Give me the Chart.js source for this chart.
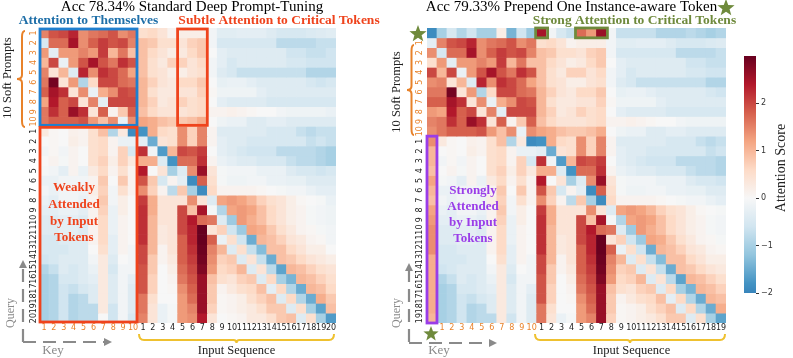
<!DOCTYPE html>
<html><head><meta charset="utf-8">
<style>html,body{margin:0;padding:0;background:#fff}#w{position:relative;width:793px;height:358px;overflow:hidden}
canvas{position:absolute;top:0;display:block}</style>
<script src="https://cdn.jsdelivr.net/npm/chart.js@4"></script></head>
<body><div id="w">
<canvas id="a" width="384" height="358" style="left:0"></canvas>
<canvas id="b" width="375" height="358" style="left:384px"></canvas>
<canvas id="c" width="58" height="358" style="left:735px"></canvas>
</div>
<script>
const promptLabels=['1','2','3','4','5','6','7','8','9','10'];
const inputLabels=['1','2','3','4','5','6','7','8','9','10','11','12','13','14','15','16','17','18','19','20'];
const standardScores=[
[1.5,1.9,2.0,2.3,1.4,1.6,1.7,1.9,1.4,1.6,.5,.6,.4,.1,.2,.2,.2,-.1,-.35,-.35,-.3,-.3,-.3,-.4,-.5,-.5,-.5,-.45,-.4,-.35],
[-.5,1.7,1.7,2.5,1.4,1.8,2.1,1.9,2.0,1.5,.9,.8,.5,.5,.4,.7,.8,-.1,-.5,-.5,-.5,-.5,-.5,-.5,-.8,-.8,-.8,-.8,-.7,-.7],
[1.3,-.3,1.3,1.3,1.5,1.3,2.1,1.0,1.6,.9,.9,.6,.4,.2,.3,.6,.8,0,-.3,-.4,-.4,-.4,-.4,-.4,-.4,-.6,-.6,-.7,-.7,-.6],
[1.0,2.0,-.2,1.3,1.9,2.5,1.9,1.6,2.2,1.9,.9,.5,.3,.7,.7,.4,.6,-.1,-.3,-.5,-.4,-.4,-.4,-.4,-.4,-.5,-.5,-.6,-.6,-.6],
[1.5,.4,1.0,-.4,2.3,1.4,2.2,2.0,1.7,1.2,.9,.5,.4,.2,.2,.4,.5,-.1,-.4,-.5,-.7,-.7,-.7,-.7,-.7,-.7,-.7,-.9,-.9,-.9],
[1.6,2.9,.4,1.3,-.9,.6,2.0,2.0,1.7,1.6,1.0,.7,.4,.3,.6,.6,.8,0,-.25,-.2,-.2,-.3,-.4,-.4,-.4,-.4,-.4,-.5,-.6,-.5],
[1.8,2.5,2.2,.4,1.4,-.2,1.1,1.4,2.0,1.9,1.0,.5,.3,.3,.4,.4,.7,.05,-.15,-.15,-.15,-.15,-.3,-.4,-.4,-.4,-.4,-.4,-.4,-.4],
[1.2,2.4,1.8,2.0,.4,1.5,-.3,2.0,2.0,2.0,1.0,.7,.3,.4,.7,.5,.6,0,-.3,-.4,-.4,-.4,-.4,-.5,-.5,-.5,-.5,-.5,-.5,-.5],
[1.6,2.2,1.8,2.6,2.2,.4,1.8,.1,.8,1.8,.9,.6,.4,.4,.4,.5,.6,.1,.1,.15,.1,.05,0,0,-.1,-.15,-.15,-.15,-.15,-.2],
[1.6,1.8,1.8,1.8,1.9,1.3,.9,1.4,-.2,1.4,1.2,1.1,.9,.8,.8,.9,1.1,0,-.15,-.2,-.2,-.4,-.4,-.3,-.3,-.4,-.4,-.4,-.4,-.4],
[.3,.05,0,.15,.1,.5,.9,-.9,.3,-1.9,-1.8,1.1,.6,.5,1.4,.7,1.5,.1,-.4,-.4,-.4,-.4,-.4,-.5,-.5,-.5,-.7,-.8,-.7,-.7],
[0,.05,0,.2,.1,.5,.6,.1,-.2,-.2,-.3,-1.5,.4,.5,1.4,.7,1.5,.1,-.3,-.4,-.4,-.5,-.5,-.5,-.5,-.5,-.5,-.7,-.6,-.7],
[-.1,.05,-.1,.1,0,.5,.6,.1,.7,-.5,2.2,-.1,-1.7,1.0,2.0,1.9,2.1,0,-.3,-.4,-.5,-.6,-.6,-.6,-.8,-.8,-.8,-.8,-.9,-1],
[0,.1,-.05,.1,0,.5,.7,.2,.7,.3,1.1,1.1,-.4,-1.8,1.7,1.7,2.2,.1,-.2,-.3,-.4,-.4,-.5,-.5,-.5,-.7,-.8,-.8,-.9,-1],
[-.05,-.1,-.3,.1,-.2,.3,.6,.1,.5,.1,2.4,0,.4,-1.0,-.4,1.4,2.6,.4,-.05,-.1,-.1,-.1,-.2,-.2,-.2,-.4,-.5,-.5,-.6,-.5],
[-.2,-.2,-.1,-.1,-.1,.1,.8,0,.8,.1,1.9,.8,-.5,.1,-.3,-1.9,1.8,.5,-.05,-.15,-.15,-.1,-.1,-.2,-.2,-.25,-.25,-.4,-.4,-.4],
[-.1,-.2,-.1,-.1,-.15,.2,.7,-.1,.5,.1,1.4,.7,.1,-.8,.8,-1,-1.9,.6,.1,.1,.1,.1,.05,0,-.05,-.1,-.1,-.2,-.3,-.3],
[-.2,-.3,-.1,-.1,-.2,.1,.8,-.1,.2,0,2.1,1.1,.4,.4,.4,1.4,.4,-.4,1.2,1.3,1.2,1.0,.7,.5,.4,.2,.05,0,-.05,-.2],
[-.3,-.3,-.2,-.2,-.3,.1,.7,-.2,.2,0,2.2,1.1,.4,.4,2.0,.9,2.5,-.05,-.9,1.2,1.3,1.2,.9,.6,.4,.2,.1,-.05,-.1,-.15],
[-.4,-.4,-.3,-.3,-.4,.1,.6,-.2,.1,0,2.2,1.0,.4,.4,2.0,2.4,1.7,1.6,-.4,-1.1,1.3,1.1,.9,.6,.4,.2,.1,-.05,-.1,-.15],
[-.4,-.4,-.3,-.3,-.4,.1,.6,-.2,.1,0,2.2,1.0,.3,.4,2.0,2.3,3,.4,.7,-.6,-1.1,1.2,1.1,.8,.5,.3,.1,.05,-.05,-.1],
[-.5,-.5,-.4,-.4,-.4,.1,.6,-.3,.1,0,2.2,1.0,.3,.4,1.8,2.3,3,1.8,-.2,.5,-.6,-1.5,1.0,.9,.7,.4,.3,.1,.05,-.1],
[-.5,-.5,-.5,-.4,-.4,0,.5,-.3,.1,-.1,2.0,1.0,.1,.4,1.8,2.2,2.95,1.5,1.0,-.4,.5,-.7,-1.3,.9,.9,.6,.4,.2,.2,0],
[-.6,-.5,-.4,-.4,-.4,-.1,.3,-.4,0,-.1,2.0,.8,.1,.3,1.8,2.1,2.9,1.4,.7,.8,-.4,.4,-.7,-1.5,.9,.8,.6,.4,.3,.2],
[-.9,-.7,-.4,-.5,-.4,-.2,.3,-.5,-.1,-.1,1.9,.8,0,.2,1.7,2.0,2.8,1.3,.6,.7,1.0,-.4,.4,-.8,-1.6,1.0,.9,.7,.5,.4],
[-1,-.9,-.5,-.5,-.4,-.3,.3,-.4,-.1,-.3,1.9,.7,0,.1,1.6,1.9,2.6,.9,.5,.4,.7,.8,-.4,.6,-1,-1.4,1.0,.9,.7,.5],
[-1,-.9,-.6,-.7,-.5,-.4,.3,-.4,-.1,-.4,1.9,.7,0,.05,1.4,1.8,2.6,.8,.1,.3,.5,.6,.9,-.3,.6,-.9,-1.5,1.0,.9,.6],
[-1,-.9,-.6,-.9,-.8,-.4,.3,-.4,-.1,-.4,1.6,.5,0,0,1.3,1.7,2.6,.8,.05,.1,.2,.5,.7,.9,-.4,.6,-.9,-1.5,1.1,.8],
[-1,-.9,-.6,-.9,-.8,-.8,.3,-.6,-.1,-.4,1.6,.4,-.2,-.05,1.3,1.5,2.6,.7,.05,.1,.2,.3,.5,.8,.8,-.4,.5,-1,-1.6,.9],
[-1,-.9,-.6,-.9,-.8,-.8,0,-.6,-.1,-.5,1.5,.4,-.2,-.05,1.3,1.4,2.4,.4,0,.05,.1,.3,.3,.5,.8,.9,-.4,.5,-1,-1.7]];
const tokenRow=[-1.9,-1,-.5,-.9,-.6,-1,-1,.2,-1.4,-.6,-1.1,2.5,-.1,-.5,-.7,1.7,1.3,2.6,-.1,-.7,-.7,-.7,-.7,-.9,-.9,-.9,-.8,-.9,-1,-.9];
const tokenCol=[-.3,1.4,.5,2.0,1.4,1.6,1.8,1.3,1.5,1.4,1.4,1.0,1.0,.9,1.2,1.0,.9,1.2,1.3,1.4,1.4,1.4,1.1,1.1,1.1,1.1,1.1,1.1,1.0];
const tokenScores=[tokenRow,...standardScores.slice(0,29).map((r,i)=>[tokenCol[i],...r.slice(0,29)])];
const colorStops=[[-3,[5,48,97]],[-2.4,[33,102,172]],[-1.8,[67,147,195]],[-1.2,[146,197,222]],[-.6,[209,229,240]],[0,[247,247,247]],[.6,[253,219,199]],[1.2,[244,165,130]],[1.8,[214,96,77]],[2.4,[178,24,43]],[3,[103,0,31]]];
const colorbarTicks=[-2,-1,0,1,2];

function scoreColor(v){v=Math.max(-3,Math.min(3,v));
 for(let i=1;i<colorStops.length;i++){if(v<=colorStops[i][0]){const [a,ca]=colorStops[i-1],[b,cb]=colorStops[i],t=(v-a)/(b-a);
  return 'rgb('+ca.map((c,k)=>Math.round(c+(cb[k]-c)*t)).join(',')+')';}}
 return 'rgb(103,0,31)';}
const SERIF='"Liberation Serif"', ORANGE='#e8822a', YELLOW='#efc12f', GRAY='#8a8a8a', RED='#ef431c', BLUE='#1f7fcf', PURPLE='#9a3de8', OLIVE='#6f8a3c';

function star(c,x,y,r){c.beginPath();for(let i=0;i<10;i++){const a=-Math.PI/2+i*Math.PI/5,q=i%2?r*.42:r;c.lineTo(x+q*Math.cos(a),y+q*Math.sin(a));}c.closePath();c.fillStyle=OLIVE;c.fill();}
function text(c,s,x,y,font,color,rot){c.save();c.translate(x,y);if(rot)c.rotate(rot);c.font=font;c.fillStyle=color;c.textAlign='center';c.textBaseline='middle';c.fillText(s,0,0);c.restore();}
function braceV(c,x0,x1,y0,y1,color){const m=(y0+y1)/2,xm=(x0+x1)/2+1;c.beginPath();c.moveTo(x1,y0);c.quadraticCurveTo(xm,y0,xm,y0+6);c.lineTo(xm,m-4);c.quadraticCurveTo(xm,m,x0,m);c.quadraticCurveTo(xm,m,xm,m+4);c.lineTo(xm,y1-6);c.quadraticCurveTo(xm,y1,x1,y1);c.strokeStyle=color;c.lineWidth=2;c.stroke();}
function braceH(c,x0,x1,y0,y1,color){const m=(x0+x1)/2,ym=y0+6;c.beginPath();c.moveTo(x0,y0);c.quadraticCurveTo(x0,ym,x0+5,ym);c.lineTo(m-3,ym);c.quadraticCurveTo(m,ym,m,y1);c.quadraticCurveTo(m,ym,m+3,ym);c.lineTo(x1-5,ym);c.quadraticCurveTo(x1,ym,x1,y0);c.strokeStyle=color;c.lineWidth=2;c.stroke();}
function arrow(c,x0,y0,x1,y1){c.strokeStyle=GRAY;c.fillStyle=GRAY;c.lineWidth=2.2;c.setLineDash([13,7]);c.beginPath();c.moveTo(x0,y0);const L=Math.hypot(x1-x0,y1-y0),ux=(x1-x0)/L,uy=(y1-y0)/L;c.lineTo(x1-ux*6,y1-uy*6);c.stroke();c.setLineDash([]);c.beginPath();c.moveTo(x1,y1);c.lineTo(x1-ux*8-uy*4,y1-uy*8+ux*4);c.lineTo(x1-ux*8+uy*4,y1-uy*8-ux*4);c.closePath();c.fill();}

function heatConfig(scores,labels,nPrompts,offset,layoutRight,leftW,yPad,decorate){
 const n=scores.length;
 return {type:'bar',data:{labels,datasets:scores.map((row,r)=>({data:row.map(()=>[r-.5,r+.5]),backgroundColor:row.map(scoreColor),borderWidth:0}))},
 options:{responsive:false,animation:false,events:[],
  datasets:{bar:{grouped:false,barPercentage:1,categoryPercentage:1}},
  layout:{padding:{left:0,right:layoutRight,top:28,bottom:0}},
  plugins:{legend:{display:false},tooltip:{enabled:false},title:{display:false}},
  scales:{
   x:{type:'category',grid:{display:false,drawTicks:false},border:{display:false},afterFit:s=>{s.height=35},
      ticks:{autoSkip:false,maxRotation:0,minRotation:0,padding:0,font:{family:'"DejaVu Sans"',size:8},color:c=>{const i=c.index-offset;return i<nPrompts?ORANGE:'#222'}}},
   y:{type:'linear',reverse:true,min:-.5,max:n-.5,grid:{display:false,drawTicks:false},border:{display:false},
      afterFit:s=>{s.width=leftW},
      afterBuildTicks:s=>{s.ticks=labels.map((_,i)=>({value:i}))},
      ticks:{autoSkip:false,minRotation:90,maxRotation:90,crossAlign:'center',padding:yPad,font:{family:'"DejaVu Sans"',size:8},
        callback:v=>labels[v],color:c=>{const i=c.index-offset;return i<nPrompts?ORANGE:'#222'}}}
  }},
 plugins:[{id:'notes',afterDraw(ch){const c=ch.ctx,X=ch.scales.x,Y=ch.scales.y,cw=(ch.chartArea.right-ch.chartArea.left)/n;
   c.save();const ox=decorate.ox;c.translate(-ox,0);
   decorate.boxes.forEach(b=>{const l=X.getPixelForValue(b.c0)-cw/2+ox,rr=X.getPixelForValue(b.c1)+cw/2+ox,t=Y.getPixelForValue(b.r0-.5),bt=Y.getPixelForValue(b.r1+.5);c.strokeStyle=b.color;c.lineWidth=2.8;c.strokeRect(l+(b.px||0),t+(b.py||0),rr-l-2*(b.px||0),bt-t-2*(b.py||0));});
   decorate.draw(c);c.restore();}}]};
}

new Chart(document.getElementById('a').getContext('2d'),heatConfig(standardScores,[...promptLabels,...inputLabels],10,0,48,39,0,{
 ox:0,
 boxes:[{c0:0,c1:9,r0:0,r1:9,color:BLUE,px:1,py:1},{c0:14,c1:16,r0:0,r1:9,color:RED,py:1},{c0:0,c1:9,r0:10,r1:29,color:RED,px:1,py:1}],
 draw(c){
  const b='bold 13.5px '+SERIF;
  text(c,'Acc 78.34% Standard Deep Prompt-Tuning',192,7,'15px '+SERIF,'#000');
  text(c,'Attention to Themselves',88.5,21,b,'#1f6fa8');
  text(c,'Subtle Attention to Critical Tokens',279,21,b,RED);
  [['Weakly',188],['Attended',205],['by Input',222],['Tokens',238]].forEach(a=>text(c,a[0],74,a[1],'bold 13px '+SERIF,RED));
  text(c,'10 Soft Prompts',8,78,'12.5px '+SERIF,'#222',-Math.PI/2);
  braceV(c,17,25,31,127,ORANGE);
  braceH(c,139,334,334,343,YELLOW);
  arrow(c,23,342,23,260);arrow(c,23,342,112,342);
  text(c,'Query',11,313,'12px '+SERIF,GRAY,-Math.PI/2);
  text(c,'Key',53,351,'13px '+SERIF,GRAY);
  text(c,'Input Sequence',236.5,351,'12.5px '+SERIF,'#222');
 }}));

new Chart(document.getElementById('b').getContext('2d'),heatConfig(tokenScores,['',...promptLabels,...inputLabels.slice(0,19)],10,1,33,43,2,{
 ox:384,
 boxes:[{c0:11,c1:11,r0:0,r1:0,color:OLIVE,px:-1,py:0},{c0:15,c1:17,r0:0,r1:0,color:OLIVE,px:-1,py:0},{c0:0,c1:0,r0:11,r1:29,color:PURPLE}],
 draw(c){
  const b='bold 13.5px '+SERIF;
  text(c,'Acc 79.33% Prepend One Instance-aware Token',571.5,7,'15px '+SERIF,'#000');
  text(c,'Strong Attention to Critical Tokens',634.5,21,b,OLIVE);
  [['Strongly',191],['Attended',207],['by Input',223],['Tokens',239]].forEach(a=>text(c,a[0],473,a[1],'bold 13px '+SERIF,PURPLE));
  text(c,'10 Soft Prompts',397,92,'12.5px '+SERIF,'#222',-Math.PI/2);
  braceV(c,407,414,45,135,ORANGE);
  braceH(c,535,725,334,343,YELLOW);
  arrow(c,409,342,409,263);arrow(c,409,343,497,343);
  text(c,'Query',397,313,'12px '+SERIF,GRAY,-Math.PI/2);
  text(c,'Key',439,351,'13px '+SERIF,GRAY);
  text(c,'Input Sequence',631.5,351,'12.5px '+SERIF,'#222');
  star(c,418,34,9);star(c,431,334,8);star(c,726,8,9);
 }}));

new Chart(document.getElementById('c').getContext('2d'),{type:'bar',
 data:{labels:['Attention Score'],datasets:[{data:[[-2,3]],barPercentage:1,categoryPercentage:1,borderWidth:0,inflateAmount:0,
  backgroundColor:ctx=>{const y=ctx.chart.scales.y;if(!y)return '#ccc';const p0=y.getPixelForValue(-2),p1=y.getPixelForValue(3);if(!isFinite(p0)||!isFinite(p1))return '#ccc';const g=ctx.chart.ctx.createLinearGradient(0,p0,0,p1);
   g.addColorStop(0,scoreColor(-2));colorStops.filter(s=>s[0]>-2).forEach(s=>g.addColorStop((s[0]+2)/5,scoreColor(s[0])));return g;}}]},
 options:{responsive:false,animation:false,events:[],layout:{padding:{left:9,right:0,top:56,bottom:65}},
  plugins:{legend:{display:false},tooltip:{enabled:false}},
  scales:{x:{display:false},
   y:{position:'right',min:-2,max:3,border:{display:false},grid:{drawOnChartArea:false,drawTicks:true,tickLength:3,color:'#333'},afterFit:s=>{s.width=37},
    afterBuildTicks:s=>{s.ticks=colorbarTicks.map(v=>({value:v}))},
    ticks:{padding:2,font:{family:'"DejaVu Sans"',size:8},color:'#333',callback:v=>v<0?'\u2212'+(-v):String(v)}}}},
 plugins:[{id:'cbTitle',afterDraw(ch){text(ch.ctx,'Attention Score',46,168,'14px '+SERIF,'#222',-Math.PI/2);}}]});
</script>
</body></html>
